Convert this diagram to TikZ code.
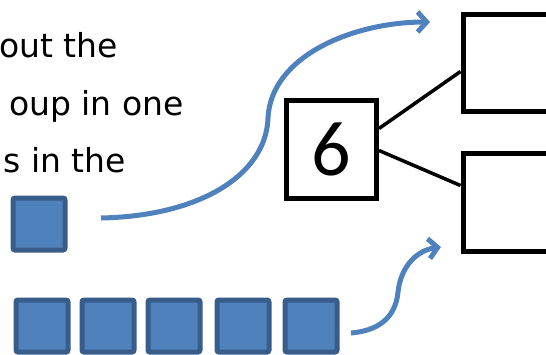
\documentclass[tikz,border=0pt]{standalone}
\usepackage{fontspec}
\setmainfont{DejaVu Sans}
\newfontfamily\numfont{Carlito}
\usetikzlibrary{arrows.meta}
\definecolor{bfill}{HTML}{4F81BD}
\definecolor{bdraw}{HTML}{385D8A}
\tikzset{
  cube/.style={draw=bdraw, fill=bfill, line width=5pt, rounded corners=2pt, minimum width=52pt, minimum height=52pt, inner sep=0pt, anchor=north west},
  blackbox/.style={draw=black, line width=5.5pt, inner sep=0pt, anchor=north west},
  link/.style={draw=black, line width=3.5pt},
  flow/.style={draw=bfill, line width=5pt, -{Straight Barb[length=9pt,width=20pt,line width=5pt]}},
  txt/.style={font=\fontsize{33}{33}\selectfont, anchor=base east, inner sep=0pt}
}
\begin{document}
\begin{tikzpicture}[x=1pt,y=-1pt]
\useasboundingbox (0,0) rectangle (546,354);
\clip (0,0) rectangle (546,354);
\node[txt] (l1) at (118,57) {out the};
\node[txt] (l2) at (184,115) {oup in one};
\node[txt] (l3) at (126,172) {s in the};
% blue cubes
\node[cube] (s0) at (10.5,195.5) {};
\node[cube] (c1) at (13.5,297.5) {};
\node[cube] (c2) at (79.5,297.5) {};
\node[cube] (c3) at (145.5,297.5) {};
\node[cube] (c4) at (214.5,297.5) {};
\node[cube] (c5) at (282.5,297.5) {};
% black boxes
\node[blackbox, minimum width=90pt, minimum height=98pt] (six) at (283.5,97.5) {\numfont\fontsize{78}{78}\selectfont 6};
\node[blackbox, minimum width=120pt, minimum height=97pt] (top) at (460.5,11.5) {};
\node[blackbox, minimum width=120pt, minimum height=98pt] (bot) at (460.5,150.5) {};
\draw[link] ([yshift=-31pt]six.north east) -- ([yshift=-60pt]top.north west);
\draw[link] ([yshift=-53pt]six.north east) -- ([yshift=-35pt]bot.north west);
% arrows
\coordinate (a1s) at (101,218);
\coordinate (a1e) at (430,22);
\coordinate (a2s) at (351,333);
\coordinate (a2e) at (441,247);
\draw[flow] (a1s) .. controls (200,216) and (266,175) .. (268,118) .. controls (271,55) and (355,22) .. (a1e);
\draw[flow] (a2s) .. controls (385,330) and (396,312) .. (398,292) .. controls (401,265) and (418,250) .. (a2e);
\end{tikzpicture}
\end{document}
